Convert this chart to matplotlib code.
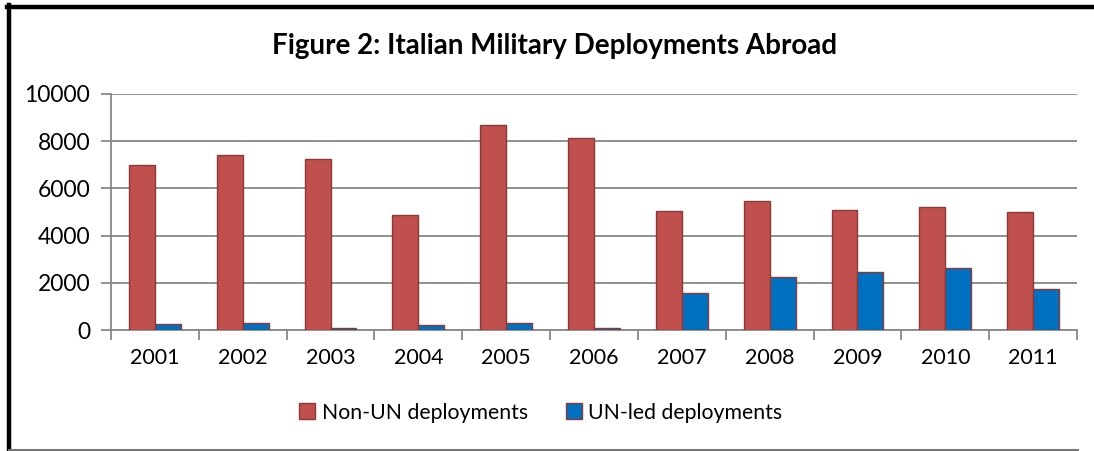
import matplotlib.pyplot as plt
import numpy as np
from matplotlib.lines import Line2D

# -------- data --------
years = ['2001', '2002', '2003', '2004', '2005', '2006',
         '2007', '2008', '2009', '2010', '2011']
non_un = [7000, 7400, 7250, 4870, 8700, 8150, 5050, 5480, 5080, 5220, 4990]
un_led = [250, 320, 110, 210, 310, 80, 1560, 2260, 2440, 2610, 1760]

RED = '#C0504D'
BLUE = '#0070C0'
EDGE = '#8C3836'
GRID = '#888888'

plt.rcParams['font.family'] = ['Lato', 'DejaVu Sans']

fig = plt.figure(figsize=(10.94, 4.51), dpi=100)
ax = fig.add_axes([0.1015, 0.268, 0.883, 0.524])

x = np.arange(len(years))
w = 0.295
ax.bar(x - w / 2, non_un, w, color=RED, edgecolor=EDGE, linewidth=1.0,
       label='Non-UN deployments', zorder=3)
ax.bar(x + w / 2, un_led, w, color=BLUE, edgecolor=EDGE, linewidth=1.0,
       label='UN-led deployments', zorder=3)

ax.set_xlim(-0.5, len(years) - 0.5)
ax.set_ylim(0, 10000)
ax.set_yticks(range(0, 10001, 2000))
ax.yaxis.grid(True, color=GRID, linewidth=1.3, zorder=0)

# category labels centered, ticks on boundaries
ax.set_xticks(x)
ax.set_xticklabels(years, fontsize=15.5)
ax.tick_params(axis='x', length=0, pad=13)
ax.set_xticks(np.arange(-0.5, len(years)), minor=True)
ax.tick_params(axis='x', which='minor', length=7, color=GRID, width=1.3)
ax.tick_params(axis='y', labelsize=16.5, length=7, color=GRID, width=1.3, pad=8)

for s in ['top', 'right']:
    ax.spines[s].set_visible(False)
for s in ['left', 'bottom']:
    ax.spines[s].set_color(GRID)
    ax.spines[s].set_linewidth(1.3)

fig.text(0.507, 0.898, 'Figure 2: Italian Military Deployments Abroad',
         ha='center', va='center', fontsize=20, fontweight='bold')

leg = fig.legend(loc='center', bbox_to_anchor=(0.4945, 0.085), ncol=2,
                 frameon=False, fontsize=15.3, handlelength=0.75,
                 handleheight=0.75, handletextpad=0.3, columnspacing=1.8)

# outer frame
fig.add_artist(Line2D([0.0083, 0.0083], [0.0, 0.988], transform=fig.transFigure,
                      color='black', linewidth=3.2))
fig.add_artist(Line2D([0.0065, 1.0], [0.984, 0.984], transform=fig.transFigure,
                      color='black', linewidth=3.2))
fig.add_artist(Line2D([0.0083, 0.985], [0.003, 0.003], transform=fig.transFigure,
                      color='#777777', linewidth=1.5))

fig.savefig('out.png', dpi=100)
